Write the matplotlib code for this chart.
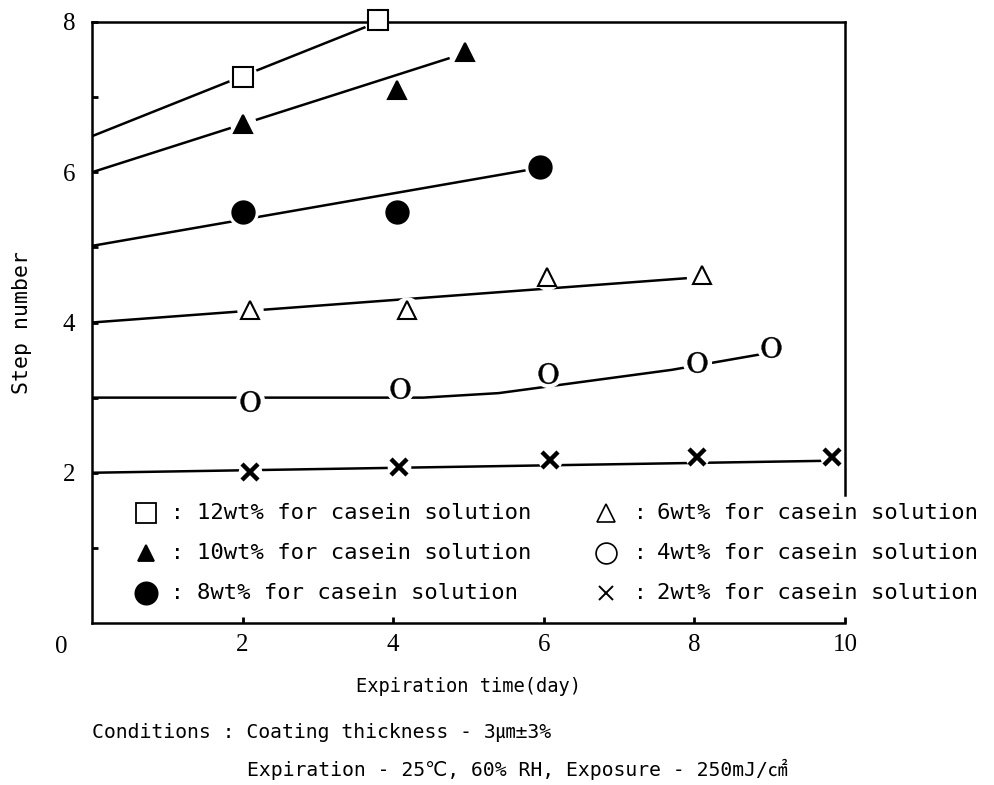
"""
Step number vs expiration time for casein solutions of different concentration.
Writes out.png
"""

import matplotlib
matplotlib.use("Agg")
import matplotlib.pyplot as plt

# ---- data --------------------------------------------------------------------
labels = ["12wt% for casein solution", "10wt% for casein solution",
          "8wt% for casein solution", "6wt% for casein solution",
          "4wt% for casein solution", "2wt% for casein solution"]

# measured points
x12 = [2.0, 3.8]
y12 = [7.27, 8.02]
x10 = [2.0, 4.05, 4.95]
y10 = [6.64, 7.10, 7.60]
x8 = [2.0, 4.05, 5.95]
y8 = [5.47, 5.47, 6.07]
x6 = [2.1, 4.18, 6.04, 8.1]
y6 = [4.17, 4.17, 4.60, 4.63]
x4 = [2.1, 4.09, 6.06, 8.03, 9.02]
y4 = [2.95, 3.13, 3.33, 3.47, 3.68]
x2 = [2.1, 4.08, 6.08, 8.04, 9.83]
y2 = [2.01, 2.07, 2.17, 2.21, 2.21]

# hand-drawn trend lines
fx12, fy12 = [0.0, 3.8], [6.48, 8.0]
fx10, fy10 = [0.0, 4.75], [6.0, 7.52]
fx8, fy8 = [0.0, 5.9], [5.02, 6.05]
fx6, fy6 = [0.0, 7.9], [4.0, 4.59]
fx4, fy4 = [0.0, 4.4, 5.4, 7.7, 8.9], [3.0, 3.0, 3.06, 3.37, 3.58]
fx2, fy2 = [0.0, 9.8], [2.0, 2.16]

y_ticks = [1, 2, 3, 4, 5, 6, 7, 8]
y_ticklabels = ["", "2", "", "4", "", "6", "", "8"]
x_ticks = [2, 4, 6, 8, 10]
x_ticklabels = ["2", "4", "6", "8", "10"]

cond_1 = "Conditions : Coating thickness - 3㎛±3%"
cond_2 = "Expiration - 25℃, 60% RH, Exposure - 250mJ/㎠"

# ---- fonts --------------------------------------------------------------------
MONO = ["DejaVu Sans Mono", "DejaVu Sans", "Noto Sans CJK KR"]
SERIF = ["Liberation Serif", "DejaVu Serif"]
plt.rcParams["mathtext.fontset"] = "stix"

LW = 1.8
O_MARK = r"$\mathrm{O}$"


def draw_series(ax, fx, fy, x, y, marker, ms, face="black", mew=1.5):
    ax.plot(fx, fy, color="black", lw=LW, solid_capstyle="butt", zorder=2)
    # white halo so the line breaks around each symbol, as in the original
    ax.plot(x, y, ls="none", marker="o", ms=ms + 5, color="white",
            mec="white", zorder=2.2)
    ax.plot(x, y, ls="none", marker=marker, ms=ms, mfc=face, mec="black",
            mew=mew, zorder=3, clip_on=False)


def main():
    fig = plt.figure(figsize=(9.95, 7.85), dpi=100)
    ax = fig.add_axes([92 / 995, 1 - 623 / 785, 753 / 995, 601 / 785])

    draw_series(ax, fx12, fy12, x12, y12, "s", 15, face="white")
    draw_series(ax, fx10, fy10, x10, y10, "^", 13)
    draw_series(ax, fx8, fy8, x8, y8, "o", 16)
    draw_series(ax, fx6, fy6, x6, y6, "^", 13, face="white")
    draw_series(ax, fx4, fy4, x4, y4, O_MARK, 15, mew=0.3)
    draw_series(ax, fx2, fy2, x2, y2, "x", 11, mew=3.2)

    ax.set_xlim(0, 10)
    ax.set_ylim(0, 8)
    for s in ax.spines.values():
        s.set_linewidth(LW)
    ax.spines["right"].set_bounds(1.7, 8)

    ax.set_yticks(y_ticks)
    ax.set_yticklabels(y_ticklabels, family=SERIF, fontsize=18)
    ax.set_xticks(x_ticks)
    ax.set_xticklabels(x_ticklabels, family=SERIF, fontsize=18)
    ax.tick_params(direction="in", length=4, width=2, pad=8)
    ax.tick_params(axis="y", pad=12)
    ax.annotate("0", xy=(0, 0), xytext=(-22, -17), textcoords="offset points",
                ha="center", va="center", family=SERIF, fontsize=18)

    ax.set_ylabel("Step number", family=MONO, fontsize=15.5, labelpad=22)
    ax.set_xlabel("Expiration time(day)", family=MONO, fontsize=13.5,
                  labelpad=15)

    # legend, two columns of "symbol : label"
    leg_marks = [("s", 14, "white", 1.3), ("^", 12, "black", 1.3),
                 ("o", 16, "black", 1.3), ("^", 13, "white", 1.2),
                 ("o", 15, "white", 1.2), ("x", 10, "black", 1.4)]
    col_x = [(0.072, 0.113, 0.139), (0.683, 0.728, 0.750)]
    row_y = [1.47, 0.93, 0.40]
    for i, (lab, (m, ms, fc, mew)) in enumerate(zip(labels, leg_marks)):
        mx, cx, tx = col_x[i // 3]
        yy = row_y[i % 3]
        ax.plot([mx * 10], [yy], ls="none", marker=m, ms=ms, mfc=fc,
                mec="black", mew=mew, clip_on=False, zorder=3)
        ax.text(cx * 10, yy, ":", ha="center", va="center", family=MONO,
                fontsize=15)
        ax.text(tx * 10, yy, lab, ha="left", va="center", family=MONO,
                fontsize=16, clip_on=False)

    fig.text(92 / 995, 1 - 733 / 785, cond_1, ha="left", va="center",
             family=MONO, fontsize=14.2)
    fig.text(247 / 995, 1 - 769 / 785, cond_2, ha="left", va="center",
             family=MONO, fontsize=14.2)

    fig.savefig("out.png", dpi=100)
    plt.close(fig)


if __name__ == "__main__":
    main()
